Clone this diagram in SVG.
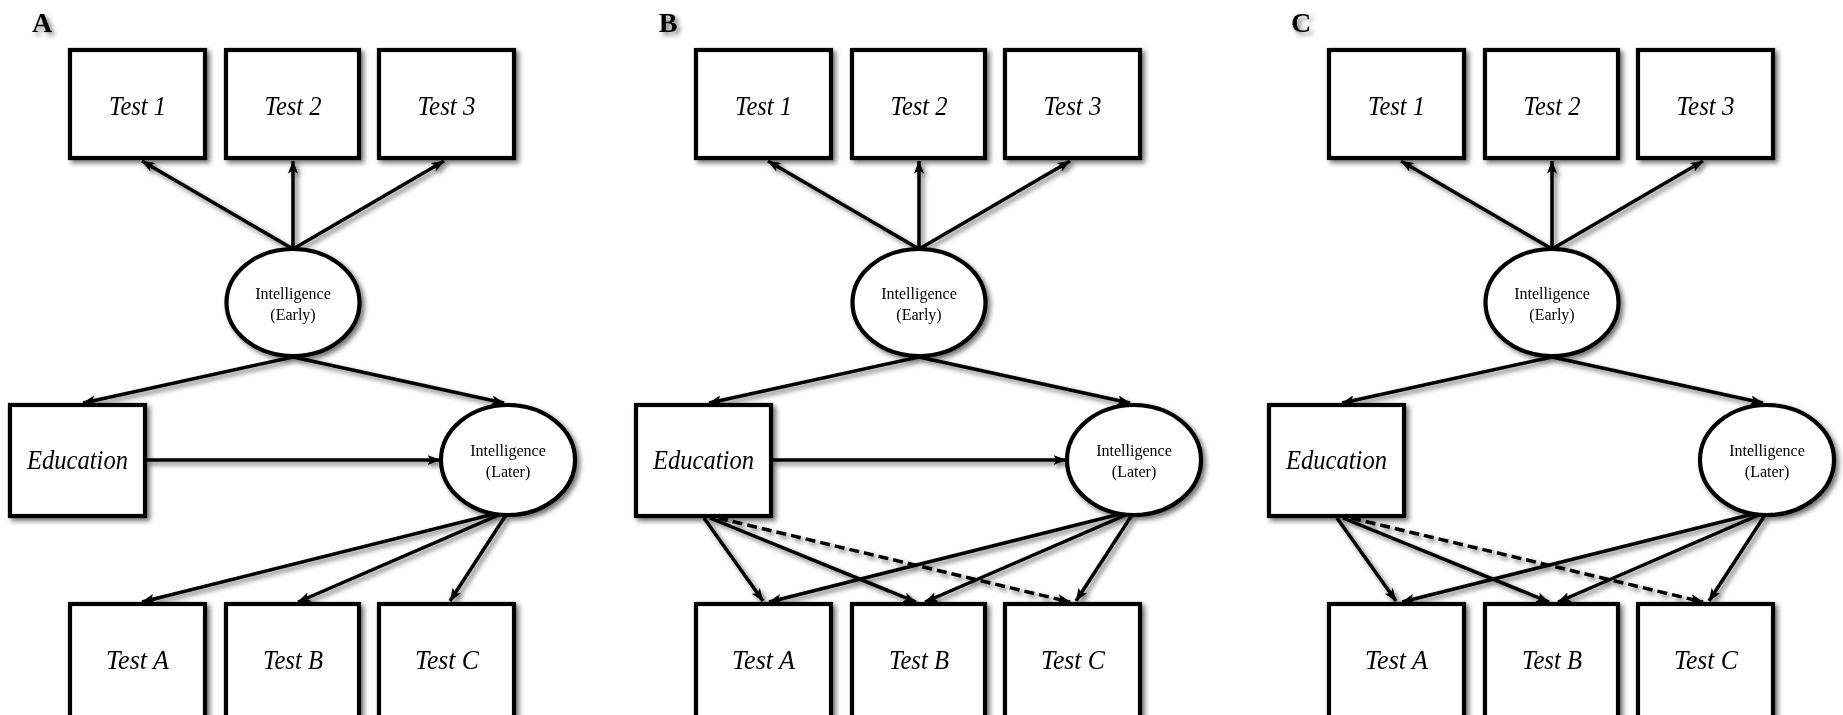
<svg xmlns="http://www.w3.org/2000/svg" width="1843" height="715" viewBox="0 0 1843 715">
<style>
.bx{fill:#fff;stroke:#000;stroke-width:4.2}
.el{fill:#fff;stroke:#000;stroke-width:4.2}
.ln{fill:none;stroke:#000;stroke-width:3.5;marker-end:url(#ah)}
.dash{stroke-dasharray:10 5}
.lbl{font-family:"Liberation Serif",serif;font-style:italic;font-size:28px;text-anchor:middle}
.lat{font-family:"Liberation Serif",serif;font-size:16px;text-anchor:middle}
.pl{font-family:"Liberation Serif",serif;font-weight:bold;font-size:28px;text-anchor:middle}
</style>
<defs>
<marker id="ah" viewBox="0 0 13 10" refX="12.5" refY="5" markerWidth="13" markerHeight="10" markerUnits="userSpaceOnUse" orient="auto">
<path d="M0,0 L13,5 L0,10 L3,5 z" fill="#000"/>
</marker>
<filter id="sh" filterUnits="userSpaceOnUse" x="-50" y="-50" width="1950" height="820">
<feDropShadow dx="3" dy="3" stdDeviation="2.5" flood-color="#000" flood-opacity="0.55"/>
</filter>
</defs>
<rect width="1843" height="715" fill="#fff"/>
<g filter="url(#sh)">

<!-- Panel A -->
<g id="panel-A">
<text class="pl" x="42" y="32">A</text>
<g id="A-test1"><rect class="bx" x="70" y="50" width="135" height="108"/><text class="lbl" x="137.5" y="115" textLength="57" lengthAdjust="spacingAndGlyphs">Test 1</text></g>
<g id="A-test2"><rect class="bx" x="226" y="50" width="133" height="108"/><text class="lbl" x="293" y="115" textLength="57" lengthAdjust="spacingAndGlyphs">Test 2</text></g>
<g id="A-test3"><rect class="bx" x="379" y="50" width="135" height="108"/><text class="lbl" x="446.5" y="115" textLength="58" lengthAdjust="spacingAndGlyphs">Test 3</text></g>
<g id="A-early"><ellipse class="el" cx="293" cy="302.5" rx="66.5" ry="53.5"/><text class="lat" x="293" y="299">Intelligence</text><text class="lat" x="293" y="320">(Early)</text></g>
<g id="A-education"><rect class="bx" x="10" y="405" width="135" height="111"/><text class="lbl" x="77.5" y="469" textLength="101" lengthAdjust="spacingAndGlyphs">Education</text></g>
<g id="A-later"><ellipse class="el" cx="508" cy="460" rx="67" ry="55"/><text class="lat" x="508" y="456">Intelligence</text><text class="lat" x="508" y="477">(Later)</text></g>
<g id="A-testA"><rect class="bx" x="70" y="604" width="135" height="130"/><text class="lbl" x="137.5" y="669" textLength="63" lengthAdjust="spacingAndGlyphs">Test A</text></g>
<g id="A-testB"><rect class="bx" x="226" y="604" width="133" height="130"/><text class="lbl" x="293" y="669" textLength="60" lengthAdjust="spacingAndGlyphs">Test B</text></g>
<g id="A-testC"><rect class="bx" x="379" y="604" width="135" height="130"/><text class="lbl" x="447" y="669" textLength="64" lengthAdjust="spacingAndGlyphs">Test C</text></g>
<g id="A-connectors">
<line class="ln" x1="293" y1="249" x2="142" y2="161"/>
<line class="ln" x1="293" y1="249" x2="293" y2="161"/>
<line class="ln" x1="293" y1="249" x2="444" y2="161"/>
<line class="ln" x1="293" y1="357" x2="83" y2="403"/>
<line class="ln" x1="293" y1="357" x2="504" y2="403"/>
<line class="ln" x1="147" y1="460" x2="440" y2="460"/>
<line class="ln" x1="494" y1="514" x2="142" y2="602"/>
<line class="ln" x1="500" y1="514.5" x2="298" y2="602"/>
<line class="ln" x1="506" y1="515" x2="450" y2="601"/>
</g>
</g>

<!-- Panel B -->
<g id="panel-B" transform="translate(626,0)">
<text class="pl" x="42" y="32">B</text>
<g id="B-test1"><rect class="bx" x="70" y="50" width="135" height="108"/><text class="lbl" x="137.5" y="115" textLength="57" lengthAdjust="spacingAndGlyphs">Test 1</text></g>
<g id="B-test2"><rect class="bx" x="226" y="50" width="133" height="108"/><text class="lbl" x="293" y="115" textLength="57" lengthAdjust="spacingAndGlyphs">Test 2</text></g>
<g id="B-test3"><rect class="bx" x="379" y="50" width="135" height="108"/><text class="lbl" x="446.5" y="115" textLength="58" lengthAdjust="spacingAndGlyphs">Test 3</text></g>
<g id="B-early"><ellipse class="el" cx="293" cy="302.5" rx="66.5" ry="53.5"/><text class="lat" x="293" y="299">Intelligence</text><text class="lat" x="293" y="320">(Early)</text></g>
<g id="B-education"><rect class="bx" x="10" y="405" width="135" height="111"/><text class="lbl" x="77.5" y="469" textLength="101" lengthAdjust="spacingAndGlyphs">Education</text></g>
<g id="B-later"><ellipse class="el" cx="508" cy="460" rx="67" ry="55"/><text class="lat" x="508" y="456">Intelligence</text><text class="lat" x="508" y="477">(Later)</text></g>
<g id="B-testA"><rect class="bx" x="70" y="604" width="135" height="130"/><text class="lbl" x="137.5" y="669" textLength="63" lengthAdjust="spacingAndGlyphs">Test A</text></g>
<g id="B-testB"><rect class="bx" x="226" y="604" width="133" height="130"/><text class="lbl" x="293" y="669" textLength="60" lengthAdjust="spacingAndGlyphs">Test B</text></g>
<g id="B-testC"><rect class="bx" x="379" y="604" width="135" height="130"/><text class="lbl" x="447" y="669" textLength="64" lengthAdjust="spacingAndGlyphs">Test C</text></g>
<g id="B-connectors">
<line class="ln" x1="293" y1="249" x2="142" y2="161"/>
<line class="ln" x1="293" y1="249" x2="293" y2="161"/>
<line class="ln" x1="293" y1="249" x2="444" y2="161"/>
<line class="ln" x1="293" y1="357" x2="83" y2="403"/>
<line class="ln" x1="293" y1="357" x2="504" y2="403"/>
<line class="ln" x1="147" y1="460" x2="440" y2="460"/>
<line class="ln" x1="78" y1="518" x2="137" y2="601"/>
<line class="ln" x1="84" y1="518" x2="290" y2="602"/>
<line class="ln dash" x1="92" y1="518" x2="444" y2="602"/>
<line class="ln" x1="494" y1="514" x2="143" y2="602"/>
<line class="ln" x1="501" y1="514.5" x2="299" y2="602"/>
<line class="ln" x1="506" y1="515" x2="450" y2="601"/>
</g>
</g>

<!-- Panel C -->
<g id="panel-C" transform="translate(1259,0)">
<text class="pl" x="42" y="32">C</text>
<g id="C-test1"><rect class="bx" x="70" y="50" width="135" height="108"/><text class="lbl" x="137.5" y="115" textLength="57" lengthAdjust="spacingAndGlyphs">Test 1</text></g>
<g id="C-test2"><rect class="bx" x="226" y="50" width="133" height="108"/><text class="lbl" x="293" y="115" textLength="57" lengthAdjust="spacingAndGlyphs">Test 2</text></g>
<g id="C-test3"><rect class="bx" x="379" y="50" width="135" height="108"/><text class="lbl" x="446.5" y="115" textLength="58" lengthAdjust="spacingAndGlyphs">Test 3</text></g>
<g id="C-early"><ellipse class="el" cx="293" cy="302.5" rx="66.5" ry="53.5"/><text class="lat" x="293" y="299">Intelligence</text><text class="lat" x="293" y="320">(Early)</text></g>
<g id="C-education"><rect class="bx" x="10" y="405" width="135" height="111"/><text class="lbl" x="77.5" y="469" textLength="101" lengthAdjust="spacingAndGlyphs">Education</text></g>
<g id="C-later"><ellipse class="el" cx="508" cy="460" rx="67" ry="55"/><text class="lat" x="508" y="456">Intelligence</text><text class="lat" x="508" y="477">(Later)</text></g>
<g id="C-testA"><rect class="bx" x="70" y="604" width="135" height="130"/><text class="lbl" x="137.5" y="669" textLength="63" lengthAdjust="spacingAndGlyphs">Test A</text></g>
<g id="C-testB"><rect class="bx" x="226" y="604" width="133" height="130"/><text class="lbl" x="293" y="669" textLength="60" lengthAdjust="spacingAndGlyphs">Test B</text></g>
<g id="C-testC"><rect class="bx" x="379" y="604" width="135" height="130"/><text class="lbl" x="447" y="669" textLength="64" lengthAdjust="spacingAndGlyphs">Test C</text></g>
<g id="C-connectors">
<line class="ln" x1="293" y1="249" x2="142" y2="161"/>
<line class="ln" x1="293" y1="249" x2="293" y2="161"/>
<line class="ln" x1="293" y1="249" x2="444" y2="161"/>
<line class="ln" x1="293" y1="357" x2="83" y2="403"/>
<line class="ln" x1="293" y1="357" x2="504" y2="403"/>
<line class="ln" x1="78" y1="518" x2="137" y2="601"/>
<line class="ln" x1="84" y1="518" x2="290" y2="602"/>
<line class="ln dash" x1="92" y1="518" x2="444" y2="602"/>
<line class="ln" x1="494" y1="514" x2="143" y2="602"/>
<line class="ln" x1="501" y1="514.5" x2="299" y2="602"/>
<line class="ln" x1="506" y1="515" x2="450" y2="601"/>
</g>
</g>

</g>
</svg>
